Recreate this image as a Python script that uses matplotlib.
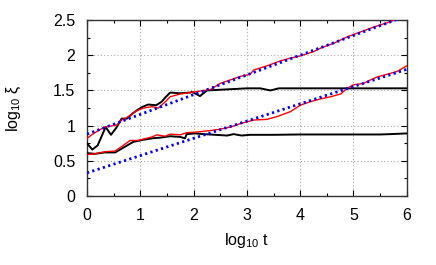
import matplotlib
matplotlib.use("Agg")
import matplotlib.pyplot as plt
from matplotlib.ticker import MultipleLocator

plt.rcParams['font.family'] = ['Liberation Sans', 'DejaVu Sans']
plt.rcParams['mathtext.fontset'] = 'custom'
plt.rcParams['mathtext.rm'] = 'Liberation Sans'
plt.rcParams['mathtext.it'] = 'Liberation Sans'

# black upper curve
bu_x = [0.0, 0.1, 0.2, 0.35, 0.45, 0.55, 0.65, 0.75, 0.85, 0.96, 1.05, 1.15, 1.3, 1.4, 1.47, 1.56,
        1.75, 1.94, 1.97, 2.12, 2.25, 2.5, 2.75, 3.0, 3.25, 3.44, 3.6, 4.0, 4.5, 5.0, 5.5, 6.0]
bu_y = [0.75, 0.66, 0.72, 0.98, 0.87, 0.97, 1.10, 1.10, 1.17, 1.23, 1.27, 1.30, 1.29, 1.34, 1.40, 1.47,
        1.46, 1.47, 1.48, 1.42, 1.50, 1.51, 1.52, 1.53, 1.53, 1.50, 1.53, 1.53, 1.53, 1.53, 1.53, 1.53]

# red upper curve
ru_x = [0.0, 0.09, 0.21, 0.34, 0.56, 0.65, 0.78, 0.93, 1.06, 1.22, 1.34, 1.47, 1.56, 1.75, 1.94, 2.19,
        2.31, 2.5, 2.69, 2.88, 3.06, 3.13, 3.38, 3.63, 3.82, 4.0, 4.25, 4.38, 4.63, 4.88, 5.13, 5.38,
        5.63, 5.8, 6.0]
ru_y = [0.82, 0.87, 0.93, 0.98, 1.01, 1.08, 1.13, 1.21, 1.25, 1.27, 1.25, 1.34, 1.41, 1.45, 1.47, 1.50,
        1.51, 1.60, 1.65, 1.70, 1.73, 1.79, 1.85, 1.92, 1.96, 1.99, 2.05, 2.10, 2.17, 2.26, 2.33, 2.40,
        2.46, 2.51, 2.56]

# black lower curve
bl_x = [0.0, 0.15, 0.34, 0.53, 0.71, 0.87, 1.06, 1.22, 1.37, 1.56, 1.75, 1.84, 1.87, 2.03, 2.19,
        2.63, 2.75, 2.9, 3.06, 3.5, 4.0, 4.5, 5.0, 5.5, 5.7, 6.0]
bl_y = [0.61, 0.60, 0.62, 0.62, 0.70, 0.77, 0.80, 0.82, 0.83, 0.85, 0.84, 0.82, 0.88, 0.89, 0.88,
        0.86, 0.88, 0.86, 0.87, 0.87, 0.875, 0.875, 0.875, 0.875, 0.88, 0.89]

# red lower curve
rl_x = [0.0, 0.15, 0.34, 0.53, 0.68, 0.81, 0.96, 1.22, 1.31, 1.47, 1.56, 1.75, 1.87, 2.06, 2.31,
        2.5, 2.69, 2.88, 3.13, 3.38, 3.57, 3.82, 4.0, 4.19, 4.38, 4.57, 4.76, 4.88, 5.0, 5.19,
        5.32, 5.44, 5.63, 5.82, 6.0]
rl_y = [0.59, 0.60, 0.63, 0.64, 0.72, 0.79, 0.79, 0.84, 0.87, 0.85, 0.88, 0.87, 0.90, 0.91, 0.93,
        0.95, 0.98, 1.03, 1.08, 1.09, 1.13, 1.20, 1.29, 1.34, 1.38, 1.41, 1.45, 1.53, 1.58, 1.60,
        1.65, 1.69, 1.73, 1.77, 1.85]

# blue dotted fit lines (endpoints)
fu_x = [0.0, 6.0]
fu_y = [0.88, 2.56]
fl_x = [0.0, 6.0]
fl_y = [0.33, 1.80]

fig = plt.figure(figsize=(4.36, 2.65), dpi=100)
ax = fig.add_axes([0.1995, 0.26, 0.7335, 0.6645])

ax.plot(bu_x, bu_y, color='black', lw=1.4, zorder=3)
ax.plot(bl_x, bl_y, color='black', lw=1.4, zorder=3)
ax.plot(ru_x, ru_y, color='#ff0000', lw=1.0, zorder=4)
ax.plot(rl_x, rl_y, color='#ff0000', lw=1.0, zorder=4)
ax.plot(fu_x, fu_y, color='#0000ff', lw=2.0, ls=(0, (0.8, 1.2)), zorder=5)
ax.plot(fl_x, fl_y, color='#0000ff', lw=2.0, ls=(0, (0.8, 1.2)), zorder=5)

ax.set_xlim(0, 6)
ax.set_ylim(0, 2.5)
ax.xaxis.set_major_locator(MultipleLocator(1))
ax.xaxis.set_minor_locator(MultipleLocator(0.5))
ax.yaxis.set_minor_locator(MultipleLocator(0.25))
ax.set_yticks([0, 0.5, 1, 1.5, 2, 2.5])
ax.set_yticklabels(['0', '0.5', '1', '1.5', '2', '2.5'])
ax.grid(True, which='major', color='#aaaaaa', ls=(0, (1, 2)), lw=0.8)
ax.tick_params(which='both', direction='in', top=True, right=True, labelsize=11.5, pad=8.5)
ax.tick_params(which='major', length=4, width=0.8)
ax.tick_params(which='minor', length=2.5, width=0.8)
for s in ax.spines.values():
    s.set_linewidth(1.0)
    s.set_color('#333333')

ax.set_xlabel(r'log$_{10}$ t', fontsize=11.5, va='center')
ax.xaxis.set_label_coords(0.5, -0.25)
ax.set_ylabel(r'log$_{10}$ ξ', fontsize=11.5, va='center')
ax.yaxis.set_label_coords(-0.228, 0.5)

fig.savefig('out.png', dpi=100)
